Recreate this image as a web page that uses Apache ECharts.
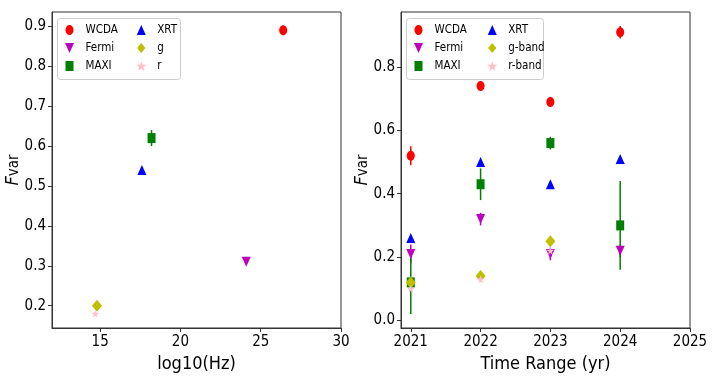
<!DOCTYPE html>
<html>
<head>
<meta charset="utf-8">
<script src="https://cdn.jsdelivr.net/npm/echarts@6/dist/echarts.min.js"></script>
<style>
html,body{margin:0;padding:0;background:#fff;}
#chart{width:714px;height:392px;}
</style>
</head>
<body>
<div id="chart"></div>
<script>
// ---------- data ----------
// Left panel: Fvar vs log10(frequency)
const leftNames = ['WCDA', 'Fermi', 'MAXI', 'XRT', 'g', 'r'];
const leftLogHz = [26.4, 24.1, 18.2, 17.6, 14.8, 14.7];
const leftFvar  = [0.89, 0.31, 0.62, 0.54, 0.20, 0.18];
const leftErr   = [0.006, 0.006, 0.02, 0.006, 0.004, 0.004];

// Right panel: Fvar per year
const rightNames = ['WCDA', 'Fermi', 'MAXI', 'XRT', 'g-band', 'r-band'];
const years      = [2021, 2022, 2023, 2024];
const wcdaFvar   = [0.52, 0.74, 0.69, 0.91];
const wcdaErr    = [0.03, 0.012, 0.012, 0.02];
const fermiFvar  = [0.21, 0.32, 0.21, 0.22];
const fermiErr   = [0.03, 0.02, 0.02, 0.02];
const maxiFvar   = [0.12, 0.43, 0.56, 0.30];
const maxiErr    = [0.10, 0.05, 0.02, 0.14];
const xrtFvar    = [0.26, 0.50, 0.43, 0.51];
const xrtErr     = [0.005, 0.005, 0.005, 0.005];
const gYears     = [2021, 2022, 2023];
const gFvar      = [0.12, 0.14, 0.25];
const gErr       = [0.005, 0.005, 0.005];
const rYears     = [2021, 2022, 2023];
const rFvar      = [0.10, 0.13, 0.22];
const rErr       = [0.005, 0.005, 0.005];

// tick labels
const leftXTicks  = [15, 20, 25, 30];
const leftYTicks  = [0.2, 0.3, 0.4, 0.5, 0.6, 0.7, 0.8, 0.9];
const rightXTicks = [2021, 2022, 2023, 2024, 2025];
const rightYTicks = [0.0, 0.2, 0.4, 0.6, 0.8];

// ---------- styles ----------
const FONT = "'DejaVu Sans Condensed', 'DejaVu Sans', sans-serif";
const AX = '#333333';
const STAR = 'path://M50,0 L61,35 L98,35 L68,57 L79,91 L50,70 L21,91 L32,57 L2,35 L39,35 Z';
const TRI_DOWN = 'path://M0,0 L9,0 L4.5,10 Z';
const TRI_UP = 'path://M4.5,0 L9,10 L0,10 Z';
const RECT = 'path://M0,0 L8,0 L8,10 L0,10 Z';
const ELLIPSE = 'path://M4,0 C6.2,0 8,2.24 8,5 C8,7.76 6.2,10 4,10 C1.8,10 0,7.76 0,5 C0,2.24 1.8,0 4,0 Z';
const DIAMOND = 'path://M5,0 L10,6 L5,12 L0,6 Z';
const styleMap = {
  'WCDA':   {color: '#ff0000', symbol: ELLIPSE,  size: [8, 10],  rot: 0},
  'Fermi':  {color: '#bf00bf', symbol: TRI_DOWN, size: [9, 10],  rot: 0},
  'MAXI':   {color: '#008000', symbol: RECT,     size: [8, 10],  rot: 0},
  'XRT':    {color: '#0000ff', symbol: TRI_UP,   size: [9, 10],  rot: 0},
  'g':      {color: '#bfbf00', symbol: DIAMOND,  size: [10, 12], rot: 0},
  'r':      {color: '#ffc0cb', symbol: STAR,     size: [8, 8],   rot: 0},
  'g-band': {color: '#bfbf00', symbol: DIAMOND,  size: [10, 12], rot: 0},
  'r-band': {color: '#ffc0cb', symbol: STAR,     size: [8, 8],   rot: 0}
};

function errSeries(gi, data, color) {
  return {
    type: 'custom', xAxisIndex: gi, yAxisIndex: gi, silent: true,
    data: data, encode: {x: 0, y: 1},
    renderItem: function (params, api) {
      const x = api.value(0), y = api.value(1), e = api.value(2);
      const p1 = api.coord([x, y - e]), p2 = api.coord([x, y + e]);
      return {type: 'line', shape: {x1: p1[0], y1: p1[1], x2: p2[0], y2: p2[1]},
              style: {stroke: color, lineWidth: 1.5}};
    }
  };
}
function ptSeries(gi, name, data) {
  const s = styleMap[name];
  return {
    type: 'scatter', name: name, xAxisIndex: gi, yAxisIndex: gi,
    data: data, symbol: s.symbol, symbolSize: s.size, symbolRotate: s.rot,
    symbolKeepAspect: false,
    itemStyle: {color: s.color, opacity: 1}, emphasis: {disabled: true}
  };
}

const series = [];
// left panel
leftNames.forEach(function (n, i) {
  series.push(errSeries(0, [[leftLogHz[i], leftFvar[i], leftErr[i]]], styleMap[n].color));
  series.push(ptSeries(0, n, [[leftLogHz[i], leftFvar[i]]]));
});
// right panel
const rightSets = [
  ['WCDA', years, wcdaFvar, wcdaErr],
  ['Fermi', years, fermiFvar, fermiErr],
  ['MAXI', years, maxiFvar, maxiErr],
  ['XRT', years, xrtFvar, xrtErr],
  ['g-band', gYears, gFvar, gErr],
  ['r-band', rYears, rFvar, rErr]
];
rightSets.forEach(function (set) {
  const n = set[0], xs = set[1], ys = set[2], es = set[3];
  series.push(errSeries(1, xs.map(function (x, i) { return [x, ys[i], es[i]]; }), styleMap[n].color));
  series.push(ptSeries(1, n, xs.map(function (x, i) { return [x, ys[i]]; })));
});

function xAxis(gi, min, max, ticks, name) {
  return {
    type: 'value', gridIndex: gi, min: min, max: max,
    name: name, nameLocation: 'middle', nameGap: 27, nameMoveOverlap: false,
    nameTextStyle: {fontFamily: FONT, fontSize: 18, color: '#000'},
    axisLine: {show: true, onZero: false, lineStyle: {color: AX, width: 1}},
    axisTick: {show: true, inside: false, length: 4, lineStyle: {color: AX}, customValues: ticks},
    axisLabel: {show: true, margin: 7, fontFamily: FONT, fontSize: 15, color: '#000',
                customValues: ticks, formatter: function (v) { return String(Math.round(v)); }},
    splitLine: {show: false}
  };
}
function yAxis(gi, min, max, ticks) {
  return {
    type: 'value', gridIndex: gi, min: min, max: max,
    name: '{f|F}{v|var}', nameLocation: 'middle', nameGap: 30, nameRotate: 90,
    nameMoveOverlap: false,
    nameTextStyle: {rich: {
      f: {fontFamily: FONT, fontStyle: 'italic', fontSize: 18, color: '#000', verticalAlign: 'bottom'},
      v: {fontFamily: FONT, fontSize: 15, color: '#000', verticalAlign: 'bottom'}
    }},
    axisLine: {show: true, onZero: false, lineStyle: {color: AX, width: 1}},
    axisTick: {show: true, inside: false, length: 4, lineStyle: {color: AX}, customValues: ticks},
    axisLabel: {show: true, margin: 6, fontFamily: FONT, fontSize: 15, color: '#000',
                customValues: ticks, formatter: function (v) { return (+v).toFixed(1); }},
    splitLine: {show: false}
  };
}

function legend(left, names) {
  return {
    orient: 'vertical', left: left, top: 24, padding: 0, z: 6,
    itemWidth: 22, itemHeight: 10, itemGap: 6,
    data: names.map(function (n) { return {name: n, icon: styleMap[n].symbol}; }),
    selectedMode: false, symbolKeepAspect: true,
    textStyle: {fontFamily: FONT, fontSize: 11.5, color: '#000', lineHeight: 10}
  };
}

const option = {
  animation: false,
  backgroundColor: '#ffffff',
  grid: [
    {left: 52, right: 373, top: 12, bottom: 64, show: true, borderColor: AX, borderWidth: 1, backgroundColor: 'transparent'},
    {left: 401, right: 24, top: 12, bottom: 64, show: true, borderColor: AX, borderWidth: 1, backgroundColor: 'transparent'}
  ],
  xAxis: [
    xAxis(0, 12, 30, leftXTicks, 'log10(Hz)'),
    xAxis(1, 2020.86, 2025, rightXTicks, 'Time Range (yr)')
  ],
  yAxis: [
    yAxis(0, 0.144, 0.936, leftYTicks),
    yAxis(1, -0.024, 0.974, rightYTicks)
  ],
  graphic: [
    {type: 'rect', left: 57, top: 18, z: 3, shape: {width: 123, height: 61, r: 3},
     style: {fill: 'rgba(255,255,255,0.8)', stroke: '#cccccc', lineWidth: 1}},
    {type: 'rect', left: 406, top: 18, z: 3, shape: {width: 137, height: 61, r: 3},
     style: {fill: 'rgba(255,255,255,0.8)', stroke: '#cccccc', lineWidth: 1}}
  ],
  legend: [
    legend(65, ['WCDA', 'Fermi', 'MAXI']),
    legend(136, ['XRT', 'g', 'r']),
    legend(414, ['WCDA', 'Fermi', 'MAXI']),
    legend(487, ['XRT', 'g-band', 'r-band'])
  ],
  series: series
};

const chart = echarts.init(document.getElementById('chart'), null, {renderer: 'canvas'});
chart.setOption(option);
</script>
</body>
</html>
